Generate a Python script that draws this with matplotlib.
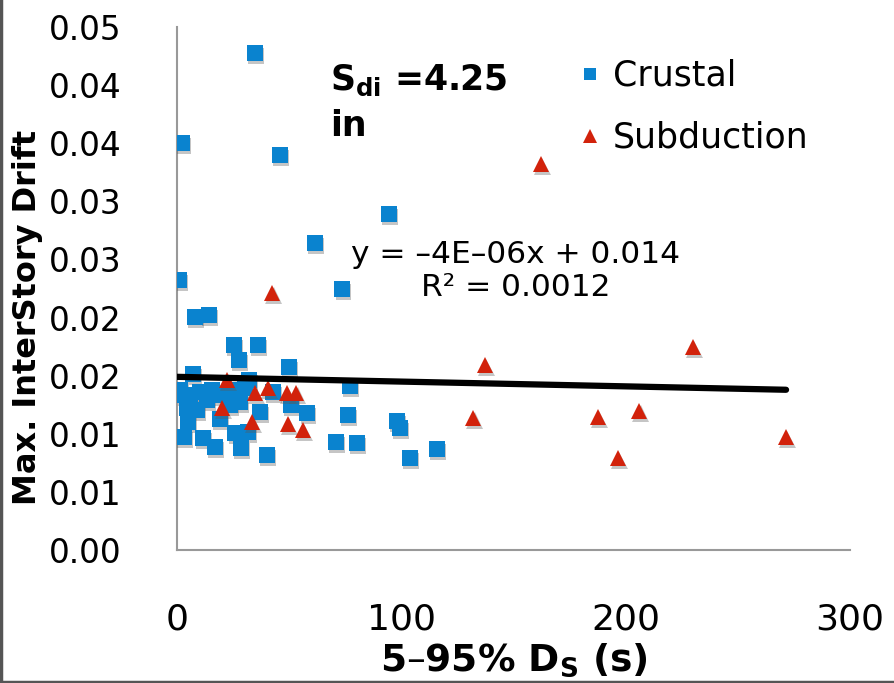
import matplotlib
matplotlib.use("Agg")
import matplotlib.pyplot as plt
import matplotlib.patheffects as pe
from matplotlib.lines import Line2D
import numpy as np

# ---------------- data ----------------
crustal_x = [34.8, 2.2, 45.9, 94.5, 61.5, 0.9, 73.6, 8.0, 14.3, 25.4, 36.1, 27.6,
             49.9, 7.1, 32.1, 77.1, 3.6, 5.8, 10.3, 15.6, 20.1, 4.5, 8.9, 13.4,
             25.9, 28.1, 30.3, 23.6, 1.3, 42.8, 50.8, 37.0, 58.0, 76.2, 4.9, 19.2,
             3.1, 11.6, 16.9, 25.9, 31.7, 28.5, 40.1, 70.9, 80.2, 98.1, 99.4,
             103.9, 115.9]
crustal_y = [0.04276, 0.03502, 0.03399, 0.02891, 0.02642, 0.02323, 0.02246, 0.02005,
             0.02022, 0.01764, 0.01764, 0.01635, 0.01575, 0.01514, 0.01463, 0.01411,
             0.01334, 0.01273, 0.01359, 0.01377, 0.01334, 0.01222, 0.01205, 0.01291,
             0.01377, 0.01273, 0.01394, 0.01248, 0.01377, 0.01359, 0.01248, 0.01187,
             0.01179, 0.01162, 0.01101, 0.01127, 0.00972, 0.00964, 0.00886, 0.01007,
             0.01015, 0.00878, 0.00817, 0.00929, 0.00921, 0.01110, 0.01050, 0.00792,
             0.00869]

subduction_x = [162.3, 42.4, 137.3, 230.0, 22.3, 34.8, 40.6, 49.0, 53.1, 20.1, 33.4,
                49.5, 56.2, 132.0, 187.7, 206.0, 196.6, 271.5]
subduction_y = [0.03321, 0.02211, 0.01592, 0.01747, 0.01463, 0.01351, 0.01394, 0.01351,
                0.01351, 0.01222, 0.01101, 0.01084, 0.01033, 0.01136, 0.01144, 0.01196,
                0.00792, 0.00972]

trend_slope = -4.1e-6
trend_intercept = 0.0149

xticks = [0, 100, 200, 300]
xtick_labels = ["0", "100", "200", "300"]
yticks = [0.0, 0.005, 0.01, 0.015, 0.02, 0.025, 0.03, 0.035, 0.04, 0.045]
ytick_labels = ["0.00", "0.01", "0.01", "0.02", "0.02", "0.03", "0.03", "0.04", "0.04", "0.05"]

series_names = ["Crustal", "Subduction"]
eq_text = "y = \u20134E\u201306x + 0.014\nR\u00b2 = 0.0012"

# ---------------- style ----------------
BLUE = "#0A83CF"
RED = "#D2220B"

fig = plt.figure(figsize=(8.95, 6.83), dpi=100)
ax = fig.add_axes([177 / 895, 133 / 683, 673 / 895, 523 / 683])

shadow = [pe.SimplePatchShadow(offset=(1.0, -2.0), shadow_rgbFace="0.35", alpha=0.35), pe.Normal()]

ax.plot(crustal_x, crustal_y, linestyle="none", marker="s", markersize=11.5,
        color=BLUE, markeredgewidth=0, path_effects=shadow, zorder=3)
ax.plot(subduction_x, subduction_y, linestyle="none", marker="^", markersize=12,
        color=RED, markeredgewidth=0, path_effects=shadow, zorder=4)

x_all = np.array(crustal_x + subduction_x)
tx = np.array([0.0, x_all.max()])
ax.plot(tx, trend_slope * tx + trend_intercept, color="black", linewidth=4.5,
        solid_capstyle="round", zorder=5)

ax.set_xlim(0, 300)
ax.set_ylim(0, 0.045)
ax.set_xticks(xticks)
ax.set_xticklabels(xtick_labels, fontsize=26)
ax.set_yticks(yticks)
ax.set_yticklabels(ytick_labels, fontsize=23.5)
ax.tick_params(axis="both", length=0)
ax.tick_params(axis="x", pad=38)
ax.tick_params(axis="y", pad=40)

for s in ["top", "right"]:
    ax.spines[s].set_visible(False)
for s in ["left", "bottom"]:
    ax.spines[s].set_color("#999999")
    ax.spines[s].set_linewidth(1.5)

ax.set_xlabel("5\u201395% D$_\\mathregular{S}$ (s)", fontweight="bold", fontsize=27)
ax.xaxis.set_label_coords(0.5, (550 - 641) / 523)
fig.text(28 / 895, 1 - 317 / 683, "Max. InterStory Drift", rotation=90, fontsize=23,
         fontweight="bold", ha="center", va="center")

# annotation
ax.text((330 - 177) / 673, (550 - 63) / 523, "S$_{\\mathregular{di}}$ =4.25\nin",
        transform=ax.transAxes, fontsize=25, fontweight="bold", ha="left", va="top",
        linespacing=1.4)

ax.text((516 - 177) / 673, (550 - 271) / 523, eq_text, transform=ax.transAxes,
        fontsize=22.5, ha="center", va="center", linespacing=1.15)

handles = [Line2D([], [], linestyle="none", marker="s", markersize=8, color=BLUE,
                  markeredgewidth=0),
           Line2D([], [], linestyle="none", marker="^", markersize=9.5, color=RED,
                  markeredgewidth=0)]
leg = ax.legend(handles, series_names, loc="upper left",
                bbox_to_anchor=((580 - 177) / 673, (550 - 59) / 523),
                frameon=False, fontsize=25, handlelength=0.6, handletextpad=0.35,
                labelspacing=0.8, borderaxespad=0, borderpad=0)

# figure border (left and bottom)
fig.add_artist(Line2D([1.5 / 895, 1.5 / 895], [0, 1], color="#555555", linewidth=2.5,
                      transform=fig.transFigure))
fig.add_artist(Line2D([0, 1], [1.5 / 683, 1.5 / 683], color="#555555", linewidth=2.5,
                      transform=fig.transFigure))

fig.savefig("out.png", dpi=100)
